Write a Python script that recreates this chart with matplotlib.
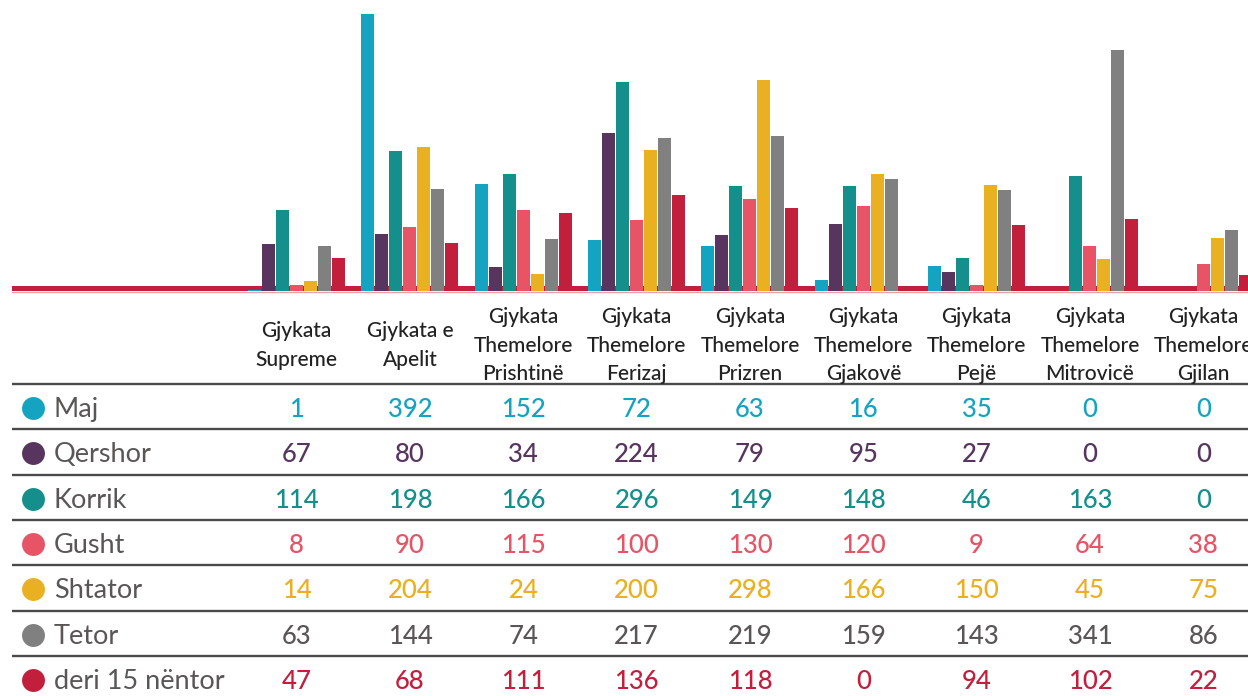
import numpy as np
import matplotlib.pyplot as plt

plt.rcParams['font.family'] = ['Lato', 'DejaVu Sans']

courts = ['Gjykata\nSupreme', 'Gjykata e\nApelit', 'Gjykata\nThemelore\nPrishtinë',
          'Gjykata\nThemelore\nFerizaj', 'Gjykata\nThemelore\nPrizren', 'Gjykata\nThemelore\nGjakovë',
          'Gjykata\nThemelore\nPejë', 'Gjykata\nThemelore\nMitrovicë', 'Gjykata\nThemelore\nGjilan']
months = ['Maj', 'Qershor', 'Korrik', 'Gusht', 'Shtator', 'Tetor', 'deri 15 nëntor']

maj = [1, 392, 152, 72, 63, 16, 35, 0, 0]
qershor = [67, 80, 34, 224, 79, 95, 27, 0, 0]
korrik = [114, 198, 166, 296, 149, 148, 46, 163, 0]
gusht = [8, 90, 115, 100, 130, 120, 9, 64, 38]
shtator = [14, 204, 24, 200, 298, 166, 150, 45, 75]
tetor = [63, 144, 74, 217, 219, 159, 143, 341, 86]
deri = [47, 68, 111, 136, 118, 0, 94, 102, 22]

series = [maj, qershor, korrik, gusht, shtator, tetor, deri]
colors = ['#14a4c1', '#57355e', '#158f8b', '#e65466', '#e9b021', '#808080', '#c21f3d']
text_grey = '#5b5656'

W, H = 1248, 696
fig = plt.figure(figsize=(W / 100, H / 100), dpi=100)

# layout in pixels
col_w = 113.33
col0 = 240
base_px = 291
px_per_unit = 277 / 392

# --- bar chart ---
ax = fig.add_axes([12 / W, (H - 294) / H, (W - 12) / W, 294 / H])
x = np.arange(len(courts))
step = 14 / col_w
width = 13 / col_w
for j, (vals, c) in enumerate(zip(series, colors)):
    ax.bar(x + (j - 3) * step, vals, width=width, color=c, zorder=3, linewidth=0)
ax.axhspan(0, 6.5, color='#c21f3d', zorder=1, linewidth=0)
ax.axhline(-1.6, color='#e8a0aa', linewidth=1, zorder=1)
ax.set_xlim((12 - col0) / col_w - 0.5, (W - col0) / col_w - 0.5)
ax.set_ylim(-3 / px_per_unit, base_px / px_per_unit)
ax.axis('off')

# --- table ---
tb = fig.add_axes([0, 0, 1, 1])
tb.set_xlim(0, W)
tb.set_ylim(H, 0)
tb.axis('off')

centers = [col0 + col_w * (i + 0.5) for i in range(len(courts))]
for cx, label in zip(centers, courts):
    lines = label.split('\n')
    n = len(lines)
    for k, line in enumerate(lines):
        yb = 344.5 + 28.5 * (k - (n - 1) / 2) + 7
        tb.text(cx, yb, line, ha='center', va='baseline', fontsize=15,
                fontweight='medium', color='#222222')

row_lines = [384 + 45.3 * i for i in range(7)]
for y in row_lines:
    tb.plot([12, W], [y, y], color='#4a4a4a', linewidth=1.7, solid_capstyle='butt')

for i, (name, vals, c) in enumerate(zip(months, series, colors)):
    y0 = row_lines[i]
    tb.plot(33, y0 + 24, 'o', markersize=16.5, color=c, markeredgewidth=0)
    tb.text(54, y0 + 33, name, ha='left', va='baseline', fontsize=19.5, color=text_grey)
    num_color = text_grey if name == 'Tetor' else c
    for cx, v in zip(centers, vals):
        tb.text(cx, y0 + 33, str(v), ha='center', va='baseline', fontsize=18.5,
                fontweight='medium', color=num_color)

fig.savefig('out.png', dpi=100)
